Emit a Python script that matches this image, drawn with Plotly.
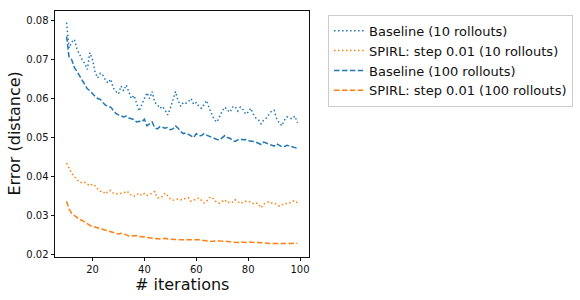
import plotly.graph_objects as go

iterations = list(range(10, 100))

baseline_10 = [
    0.0795, 0.0730, 0.0745, 0.0752, 0.0728, 0.0712, 0.0700, 0.0690, 0.0675, 0.0718,
    0.0700, 0.0668, 0.0653, 0.0665, 0.0660, 0.0648, 0.0640, 0.0650, 0.0628, 0.0618,
    0.0612, 0.0632, 0.0620, 0.0635, 0.0618, 0.0600, 0.0608, 0.0590, 0.0568, 0.0585,
    0.0600, 0.0615, 0.0600, 0.0618, 0.0590, 0.0585, 0.0575, 0.0580, 0.0570, 0.0558,
    0.0575, 0.0600, 0.0618, 0.0595, 0.0580, 0.0590, 0.0588, 0.0592, 0.0600, 0.0585,
    0.0590, 0.0580, 0.0575, 0.0585, 0.0595, 0.0575, 0.0560, 0.0545, 0.0540, 0.0555,
    0.0568, 0.0578, 0.0570, 0.0565, 0.0578, 0.0580, 0.0568, 0.0578, 0.0572, 0.0560,
    0.0565, 0.0575, 0.0560, 0.0550, 0.0545, 0.0535, 0.0545, 0.0550, 0.0560, 0.0568,
    0.0570, 0.0548, 0.0538, 0.0530, 0.0545, 0.0553, 0.0550, 0.0548, 0.0555, 0.0538,
]

spirl_10 = [
    0.0434, 0.0421, 0.0408, 0.0400, 0.0391, 0.0387, 0.0383, 0.0385, 0.0380, 0.0376,
    0.0380, 0.0376, 0.0368, 0.0362, 0.0362, 0.0355, 0.0362, 0.0364, 0.0357, 0.0355,
    0.0356, 0.0356, 0.0357, 0.0362, 0.0359, 0.0351, 0.0349, 0.0353, 0.0357, 0.0351,
    0.0356, 0.0351, 0.0353, 0.0357, 0.0361, 0.0345, 0.0345, 0.0349, 0.0357, 0.0349,
    0.0342, 0.0339, 0.0340, 0.0342, 0.0340, 0.0340, 0.0345, 0.0345, 0.0336, 0.0340,
    0.0342, 0.0345, 0.0339, 0.0332, 0.0336, 0.0345, 0.0347, 0.0339, 0.0332, 0.0332,
    0.0335, 0.0340, 0.0332, 0.0335, 0.0334, 0.0340, 0.0336, 0.0330, 0.0334, 0.0336,
    0.0335, 0.0335, 0.0330, 0.0332, 0.0329, 0.0319, 0.0329, 0.0332, 0.0335, 0.0332,
    0.0332, 0.0328, 0.0324, 0.0328, 0.0328, 0.0332, 0.0332, 0.0336, 0.0338, 0.0332,
]

baseline_100 = [
    0.0760, 0.0705, 0.0700, 0.0680, 0.0670, 0.0658, 0.0648, 0.0635, 0.0625, 0.0620,
    0.0612, 0.0606, 0.0600, 0.0598, 0.0590, 0.0583, 0.0580, 0.0578, 0.0570, 0.0562,
    0.0558, 0.0556, 0.0553, 0.0555, 0.0550, 0.0548, 0.0546, 0.0540, 0.0542, 0.0540,
    0.0547, 0.0530, 0.0536, 0.0540, 0.0525, 0.0522, 0.0528, 0.0525, 0.0524, 0.0526,
    0.0520, 0.0522, 0.0530, 0.0524, 0.0515, 0.0510, 0.0512, 0.0508, 0.0505, 0.0500,
    0.0510, 0.0504, 0.0505, 0.0510, 0.0506, 0.0503, 0.0500, 0.0498, 0.0495, 0.0494,
    0.0500, 0.0505, 0.0500, 0.0498, 0.0492, 0.0490, 0.0494, 0.0496, 0.0494, 0.0495,
    0.0492, 0.0490, 0.0490, 0.0488, 0.0484, 0.0482, 0.0488, 0.0486, 0.0482, 0.0480,
    0.0478, 0.0484, 0.0480, 0.0476, 0.0477, 0.0480, 0.0478, 0.0476, 0.0474, 0.0472,
]

spirl_100 = [
    0.0336, 0.0316, 0.0305, 0.0300, 0.0293, 0.0289, 0.0287, 0.0283, 0.0280, 0.0274,
    0.0270, 0.0270, 0.0268, 0.0266, 0.0264, 0.0262, 0.0260, 0.0259, 0.0255, 0.0254,
    0.0252, 0.0254, 0.0253, 0.0250, 0.0247, 0.0247, 0.0247, 0.0248, 0.0246, 0.0245,
    0.0244, 0.0243, 0.0243, 0.0242, 0.0240, 0.0239, 0.0239, 0.0240, 0.0241, 0.0239,
    0.0239, 0.0239, 0.0238, 0.0238, 0.0237, 0.0237, 0.0238, 0.0238, 0.0237, 0.0238,
    0.0238, 0.0237, 0.0236, 0.0235, 0.0234, 0.0233, 0.0233, 0.0234, 0.0235, 0.0234,
    0.0234, 0.0233, 0.0233, 0.0232, 0.0231, 0.0230, 0.0230, 0.0232, 0.0231, 0.0230,
    0.0232, 0.0231, 0.0230, 0.0230, 0.0230, 0.0230, 0.0229, 0.0229, 0.0228, 0.0228,
    0.0228, 0.0227, 0.0227, 0.0227, 0.0227, 0.0228, 0.0228, 0.0228, 0.0229, 0.0228,
]

series_names = [
    "Baseline (10 rollouts)",
    "SPIRL: step 0.01 (10 rollouts)",
    "Baseline (100 rollouts)",
    "SPIRL: step 0.01 (100 rollouts)",
]

x_ticks = [20, 40, 60, 80, 100]
y_ticks = [0.02, 0.03, 0.04, 0.05, 0.06, 0.07, 0.08]
x_title = "# iterations"
y_title = "Error (distance)"

BLUE = "#1f77b4"
ORANGE = "#ff7f0e"
DOT = "1.5px,2.5px"
DASH = "5.5px,2.4px"

fig = go.Figure()
for name, ys, color, dash in [
    (series_names[0], baseline_10, BLUE, DOT),
    (series_names[1], spirl_10, ORANGE, DOT),
    (series_names[2], baseline_100, BLUE, DASH),
    (series_names[3], spirl_100, ORANGE, DASH),
]:
    fig.add_trace(go.Scatter(
        x=iterations, y=ys, mode="lines", name=name,
        line=dict(color=color, width=1.5, dash=dash),
    ))

axis_common = dict(
    showline=True, linecolor="#111", linewidth=0.8, mirror=True,
    ticks="outside", ticklen=3.5, tickwidth=0.8, tickcolor="#111",
    showgrid=False, zeroline=False, automargin=False,
    tickfont=dict(family="DejaVu Sans", size=10, color="#111"),
)

fig.update_layout(
    width=580, height=300,
    margin=dict(l=55, r=271, t=11, b=43, autoexpand=False),
    paper_bgcolor="white", plot_bgcolor="white",
    font=dict(family="DejaVu Sans", color="#111"),
    xaxis=dict(range=[5.55, 103.45], tickvals=x_ticks, **axis_common),
    yaxis=dict(range=[0.0193, 0.0825], tickvals=y_ticks, tickformat=".2f",
               **axis_common),
    legend=dict(
        x=1.075, y=0.985, xanchor="left", yanchor="top",
        bordercolor="#cccccc", borderwidth=1, bgcolor="white",
        font=dict(family="DejaVu Sans", size=13, color="#111"),
        itemwidth=30,
    ),
    showlegend=True,
    annotations=[
        dict(text=x_title, xref="paper", yref="paper", x=0.5, y=-0.112,
             xanchor="center", yanchor="middle", showarrow=False,
             font=dict(family="DejaVu Sans", size=16, color="#111")),
        dict(text=y_title, xref="paper", yref="paper", x=-0.163, y=0.5,
             xanchor="center", yanchor="middle", showarrow=False, textangle=-90,
             font=dict(family="DejaVu Sans", size=16, color="#111")),
    ],
)

fig.write_html(
    "out.html",
    config={"displayModeBar": False},
    post_script="document.body.style.margin='0';document.body.style.padding='0';",
)
